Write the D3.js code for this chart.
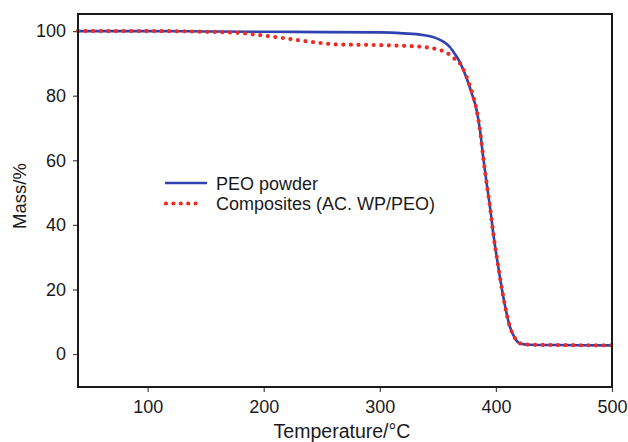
<!DOCTYPE html>
<html>
<head>
<meta charset="utf-8">
<script src="https://cdn.jsdelivr.net/npm/d3@7"></script>
<style>
    body { margin: 0; background: #fff; }
    svg { display: block; font-family: "Liberation Sans", Arial, sans-serif; }
</style>
</head>
<body>
<div id="chart"></div>
<script>
// TGA curves
var peoTemps = [40, 100, 150, 200, 250, 300, 320, 337, 344, 350, 354, 357.6, 360.5, 363, 366, 369, 374.8, 379, 383.4, 386.3, 389, 392, 394.9, 397.7, 402, 406.3, 412, 416.4, 420.7, 429, 450, 500];
var peoMass = [100, 100, 99.9, 99.8, 99.7, 99.6, 99.3, 98.8, 98.3, 97.6, 96.9, 96.0, 95.0, 93.8, 92.2, 90.3, 85.4, 80.9, 75.5, 69.3, 61.1, 52.9, 45.6, 37.4, 27.1, 17.8, 8.5, 4.9, 3.3, 2.9, 2.8, 2.7];

var compTemps = [40, 100, 150, 180, 200, 220, 233.5, 247, 261.4, 275.7, 295.8, 323, 337, 350, 357.6, 363, 370.5, 376, 380.5, 383.4, 386.3, 389, 392, 394.9, 397.7, 402, 406.3, 412, 416.4, 420.7, 429, 450, 500];
var compMass = [100, 100, 99.8, 99.4, 98.6, 97.7, 97.0, 96.4, 95.9, 95.8, 95.7, 95.4, 95.1, 94.3, 93.3, 91.8, 89.2, 84.6, 79.8, 75.5, 69.3, 61.1, 52.9, 45.6, 37.4, 27.1, 17.8, 8.5, 4.9, 3.3, 2.9, 2.8, 2.7];

var xTicks = [100, 200, 300, 400, 500];
var yTicks = [0, 20, 40, 60, 80, 100];
var legendLabels = ["PEO powder", "Composites (AC. WP/PEO)"];

(function(d3) {

    "use strict";

    var width = 628,
        height = 442,
        margin = { top: 14, right: 16, bottom: 55, left: 78 };

    var svg = d3.select("#chart").append("svg")
        .attr("width", width)
        .attr("height", height);

    var x = d3.scaleLinear().domain([40, 500]).range([margin.left, width - margin.right]);
    var y = d3.scaleLinear().domain([-10.2, 105.3]).range([height - margin.bottom, margin.top]);

    /**
     * zip temps + masses into point objects
     */
    function zip(ts, ms) {
        return ts.map(function(t, i) { return { t: t, m: ms[i] }; });
    }

    var line = d3.line()
        .x(function(d) { return x(d.t); })
        .y(function(d) { return y(d.m); })
        .curve(d3.curveMonotoneX);

    // axes
    var xAxis = svg.append("g")
        .attr("transform", "translate(0," + (height - margin.bottom) + ")")
        .call(d3.axisBottom(x).tickValues(xTicks).tickSize(5).tickPadding(8));

    var yAxis = svg.append("g")
        .attr("transform", "translate(" + margin.left + ",0)")
        .call(d3.axisLeft(y).tickValues(yTicks).tickSize(5).tickPadding(7));

    [xAxis, yAxis].forEach(function(a) {
        a.select(".domain").remove();
        a.selectAll(".tick line").attr("stroke", "#444").attr("stroke-width", 1.2);
        a.selectAll(".tick text")
            .attr("fill", "#1a1a1a")
            .style("font-size", "18px")
            .style("font-family", "'Liberation Sans', Arial, sans-serif");
    });

    // curves
    svg.append("path")
        .datum(zip(peoTemps, peoMass))
        .attr("d", line)
        .attr("fill", "none")
        .attr("stroke", "#2f42b0")
        .attr("stroke-width", 2.6);

    svg.append("path")
        .datum(zip(compTemps, compMass))
        .attr("d", line)
        .attr("fill", "none")
        .attr("stroke", "#ee2b22")
        .attr("stroke-width", 4.2)
        .attr("stroke-linecap", "round")
        .attr("stroke-dasharray", "0 7.6");

    // frame
    svg.append("rect")
        .attr("x", margin.left)
        .attr("y", margin.top)
        .attr("width", width - margin.left - margin.right)
        .attr("height", height - margin.top - margin.bottom)
        .attr("fill", "none")
        .attr("stroke", "#1a1a1a")
        .attr("stroke-width", 2);

    // axis titles
    svg.append("text")
        .attr("x", 342)
        .attr("y", 438)
        .attr("text-anchor", "middle")
        .attr("fill", "#1a1a1a")
        .style("font-size", "19.5px")
        .text("Temperature/°C");

    svg.append("text")
        .attr("transform", "translate(26,196) rotate(-90)")
        .attr("text-anchor", "middle")
        .attr("fill", "#1a1a1a")
        .style("font-size", "18.5px")
        .text("Mass/%");

    // legend
    var legend = svg.append("g").attr("transform", "translate(165,183)");

    legend.append("line")
        .attr("x1", 0).attr("x2", 42)
        .attr("y1", 0).attr("y2", 0)
        .attr("stroke", "#2f42b0")
        .attr("stroke-width", 2.6);

    legend.append("line")
        .attr("x1", 1).attr("x2", 38)
        .attr("y1", 20.5).attr("y2", 20.5)
        .attr("stroke", "#ee2b22")
        .attr("stroke-width", 4.2)
        .attr("stroke-linecap", "round")
        .attr("stroke-dasharray", "0 7.4");

    legend.selectAll("text.lab")
        .data(legendLabels)
        .enter()
        .append("text")
        .attr("class", "lab")
        .attr("x", 51)
        .attr("y", function(d, i) { return i * 20.5 + 6.5; })
        .attr("fill", "#1a1a1a")
        .style("font-size", "18px")
        .text(function(d) { return d; });

})(d3);
</script>
</body>
</html>
